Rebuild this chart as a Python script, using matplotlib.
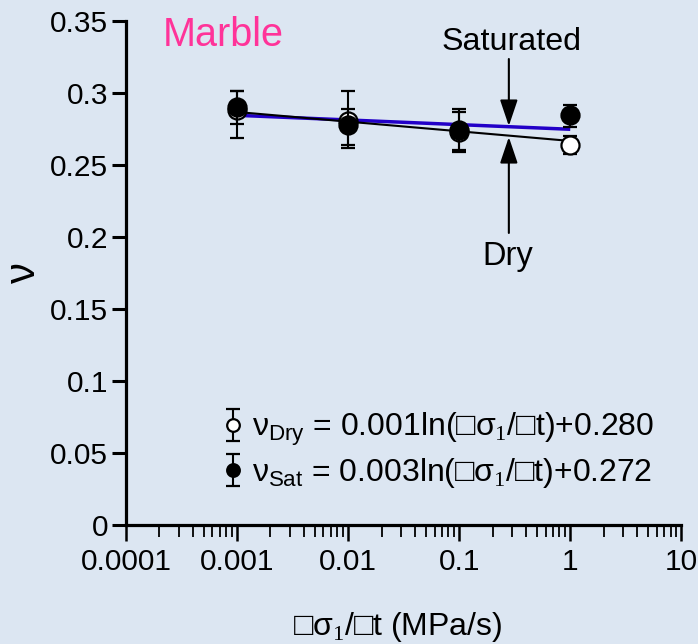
import matplotlib
matplotlib.use("Agg")
import matplotlib.pyplot as plt
from matplotlib.ticker import FixedLocator, LogLocator, NullFormatter

plt.rcParams["font.family"] = ["Liberation Sans", "DejaVu Sans"]
plt.rcParams["mathtext.fontset"] = "custom"
plt.rcParams["mathtext.rm"] = "Liberation Sans"
plt.rcParams["mathtext.it"] = "Liberation Sans"
plt.rcParams["mathtext.bf"] = "Liberation Sans:bold"
plt.rcParams["mathtext.sf"] = "Liberation Serif"

# Loading rate (MPa/s)
rates = [0.001, 0.01, 0.1, 1]

# Poisson's ratio, dry specimens
nu_dry = [0.2882, 0.2806, 0.2726, 0.2639]
dry_err_lo = [0.0195, 0.0188, 0.0137, 0.0063]
dry_err_hi = [0.0132, 0.0205, 0.0141, 0.0063]

# Poisson's ratio, saturated specimens
nu_sat = [0.2903, 0.2776, 0.2740, 0.2846]
sat_err_lo = [0.0118, 0.0139, 0.0139, 0.0080]
sat_err_hi = [0.0111, 0.0111, 0.0150, 0.0074]

# Logarithmic trend lines
fit_rates = [0.001, 1]
fit_dry = [0.2868, 0.2667]
fit_sat = [0.2845, 0.2748]

y_ticks = [0, 0.05, 0.1, 0.15, 0.2, 0.25, 0.3, 0.35]
y_tick_labels = ["0", "0.05", "0.1", "0.15", "0.2", "0.25", "0.3", "0.35"]
x_ticks = [0.0001, 0.001, 0.01, 0.1, 1, 10]
x_tick_labels = ["0.0001", "0.001", "0.01", "0.1", "1", "10"]

label_dry = r"$\nu_{\rm Dry}$ = 0.001ln(□$\sigma_\mathsf{1}$/□t)+0.280"
label_sat = r"$\nu_{\rm Sat}$ = 0.003ln(□$\sigma_\mathsf{1}$/□t)+0.272"

bg = "#DCE6F2"
blue = "#2200C8"

fig = plt.figure(figsize=(6.98, 6.44), dpi=100, facecolor=bg)
ax = fig.add_axes([0.1805, 0.1848, 0.7956, 0.7826], facecolor=bg)

ax.set_xscale("log")
ax.set_xlim(1e-4, 10)
ax.set_ylim(0, 0.35)

ax.plot(fit_rates, fit_sat, color=blue, lw=2.5, zorder=2, solid_capstyle="butt")
ax.plot(fit_rates, fit_dry, color="black", lw=1.5, zorder=3, solid_capstyle="butt")

eb_dry = ax.errorbar(rates, nu_dry, yerr=[dry_err_lo, dry_err_hi], fmt="o",
                     ms=13, mfc="white", mec="black", mew=1.6,
                     ecolor="black", elinewidth=1.5, capsize=4.7, capthick=1.8,
                     zorder=4, clip_on=False)
eb_sat = ax.errorbar(rates, nu_sat, yerr=[sat_err_lo, sat_err_hi], fmt="o",
                     ms=13, mfc="black", mec="black", mew=1.6,
                     ecolor="black", elinewidth=1.5, capsize=4.7, capthick=1.8,
                     zorder=5, clip_on=False)

# axes styling
for side in ("top", "right"):
    ax.spines[side].set_visible(False)
for side in ("left", "bottom"):
    ax.spines[side].set_linewidth(2.3)

ax.yaxis.set_major_locator(FixedLocator(y_ticks))
ax.set_yticklabels(y_tick_labels)
ax.xaxis.set_major_locator(FixedLocator(x_ticks))
ax.set_xticklabels(x_tick_labels)
ax.xaxis.set_minor_locator(LogLocator(base=10, subs=range(2, 10), numticks=20))
ax.xaxis.set_minor_formatter(NullFormatter())

ax.tick_params(axis="y", which="major", direction="out", length=10, width=2.2,
               pad=3, labelsize=21.5)
ax.tick_params(axis="x", which="major", direction="out", length=11.5, width=1.8,
               pad=5, labelsize=21.5)
ax.tick_params(axis="x", which="minor", direction="out", length=8.6, width=1.3)

ax.set_ylabel("ν", fontsize=30, rotation=90)
ax.yaxis.set_label_coords(-0.148, 0.50)
ax.set_xlabel(r"□$\sigma_\mathsf{1}$/□t (MPa/s)", fontsize=23, va="baseline")
ax.xaxis.set_label_coords(0.49, -0.2183)

ax.text(0.0667, 0.950, "Marble", transform=ax.transAxes, fontsize=28.5,
        color="#FF3399", ha="left", va="baseline")

# arrows marking the two trend lines
arrow_x = 0.28
arrow_kw = dict(arrowstyle="-|>,head_length=0.8,head_width=0.27",
                mutation_scale=20, lw=1.5, color="black", shrinkA=0, shrinkB=0)
ax.annotate("", xy=(arrow_x, 0.2771), xytext=(arrow_x, 0.3236),
            arrowprops=arrow_kw)
ax.annotate("", xy=(arrow_x, 0.2694), xytext=(arrow_x, 0.2028),
            arrowprops=arrow_kw)
ax.text(0.295, 0.3299, "Saturated", fontsize=23.2, ha="center", va="baseline")
ax.text(0.275, 0.1806, "Dry", fontsize=23.5, ha="center", va="baseline")

leg = ax.legend([eb_dry, eb_sat], [label_dry, label_sat], loc="center left",
                bbox_to_anchor=(0.172, 0.148), frameon=False, fontsize=23,
                markerscale=0.7, handlelength=0.75, handletextpad=0.2,
                borderpad=0, borderaxespad=0, labelspacing=0.25)

fig.savefig("out.png", dpi=100, facecolor=bg)
